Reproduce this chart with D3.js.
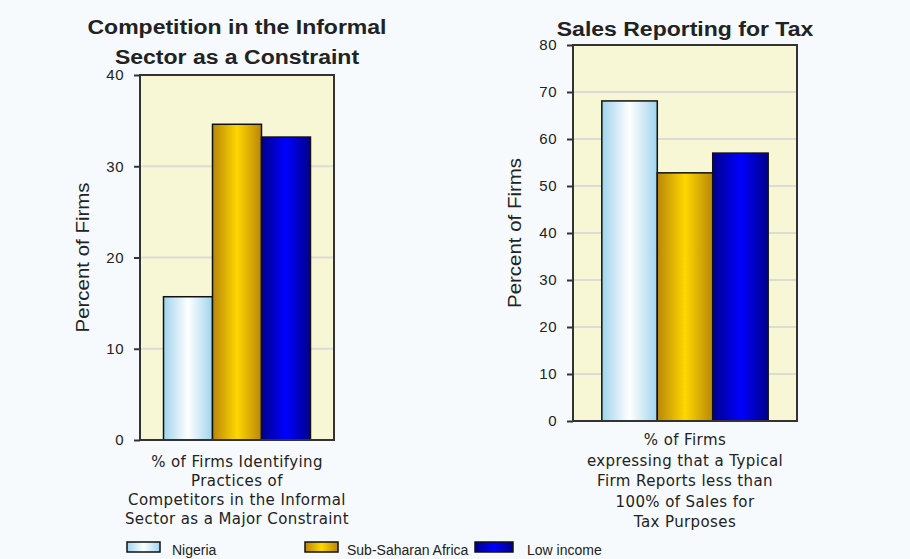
<!DOCTYPE html>
<html>
<head>
<meta charset="utf-8">
<script src="https://cdn.jsdelivr.net/npm/d3@7"></script>
<style>
  body { margin: 0; background: #f7fafd; }
  svg { display: block; }
</style>
</head>
<body>
<div id="chart"></div>
<script>
var WIDTH = 910;
var HEIGHT = 559;

// data
var series = ["Nigeria", "Sub-Saharan Africa", "Low income"];
var compValues = [15.7, 34.6, 33.2];
var taxValues = [68.1, 52.8, 57.0];
var compTicks = [0, 10, 20, 30, 40];
var taxTicks = [0, 10, 20, 30, 40, 50, 60, 70, 80];
var compTitle = ["Competition in the Informal", "Sector as a Constraint"];
var taxTitle = ["Sales Reporting for Tax"];
var compCategory = ["% of Firms Identifying", "Practices of", "Competitors in the Informal", "Sector as a Major Constraint"];
var taxCategory = ["% of Firms", "expressing that a Typical", "Firm Reports less than", "100% of Sales for", "Tax Purposes"];

var svg = d3.select("#chart").append("svg")
    .attr("width", WIDTH)
    .attr("height", HEIGHT);

var defs = svg.append("defs");

// bar gradients: dark edges, light centre
var gradStops = [
    ["#9fd4ec", "#ffffff", "#9fd4ec"],
    ["#b8860b", "#ffd700", "#b8860b"],
    ["#00008b", "#0000ff", "#00008b"]
];
gradStops.forEach(function(c, i) {
    var g = defs.append("linearGradient")
        .attr("id", "grad" + i)
        .attr("x1", "0%").attr("x2", "100%")
        .attr("y1", "0%").attr("y2", "0%");
    g.append("stop").attr("offset", "0%").attr("stop-color", c[0]);
    g.append("stop").attr("offset", "50%").attr("stop-color", c[1]);
    g.append("stop").attr("offset", "100%").attr("stop-color", c[2]);
});

var SANS = "'Liberation Sans', Arial, sans-serif";

function drawChart(opt) {
    var g = svg.append("g");
    var x = d3.scaleBand().domain(series).range([opt.left, opt.right]).paddingOuter(opt.outer);
    var y = d3.scaleLinear().domain([0, opt.max]).range([opt.bottom, opt.top]);

    // plot background
    g.append("rect")
        .attr("x", opt.left).attr("y", opt.top)
        .attr("width", opt.right - opt.left)
        .attr("height", opt.bottom - opt.top)
        .attr("fill", "#f7f7d5");

    // gridlines
    g.selectAll(".grid")
        .data(opt.ticks.filter(function(t) { return t > 0 && t < opt.max; }))
        .enter().append("line")
        .attr("x1", opt.left).attr("x2", opt.right)
        .attr("y1", function(d) { return y(d); })
        .attr("y2", function(d) { return y(d); })
        .attr("stroke", "#dcdcd4")
        .attr("stroke-width", 2);

    // bars
    g.selectAll(".bar")
        .data(opt.values)
        .enter().append("rect")
        .attr("x", function(d, i) { return x(series[i]); })
        .attr("y", function(d) { return y(d); })
        .attr("width", x.bandwidth())
        .attr("height", function(d) { return opt.bottom - y(d); })
        .attr("fill", function(d, i) { return "url(#grad" + i + ")"; })
        .attr("stroke", "#111")
        .attr("stroke-width", 1.5);

    // frame
    g.append("rect")
        .attr("x", opt.left).attr("y", opt.top)
        .attr("width", opt.right - opt.left)
        .attr("height", opt.bottom - opt.top)
        .attr("fill", "none")
        .attr("stroke", "#333")
        .attr("stroke-width", 2);

    // y axis
    var axis = g.append("g")
        .attr("transform", "translate(" + opt.left + ",0)")
        .call(d3.axisLeft(y).tickValues(opt.ticks).tickSize(6).tickPadding(10).tickFormat(d3.format("d")));
    axis.select(".domain").remove();
    axis.selectAll(".tick line").attr("stroke", "#333").attr("stroke-width", 2);
    axis.selectAll(".tick text")
        .attr("fill", "#222")
        .style("font-family", SANS)
        .style("font-size", "15px")
        .style("letter-spacing", "0.5px");

    // y label
    var cx = (opt.left + opt.right) / 2;
    g.append("text")
        .attr("transform", "translate(" + opt.labelX + "," + ((opt.top + opt.bottom) / 2) + ") rotate(-90)")
        .attr("text-anchor", "middle")
        .attr("dy", "0.35em")
        .attr("textLength", 150)
        .attr("lengthAdjust", "spacingAndGlyphs")
        .style("font-family", SANS)
        .style("font-size", "18px")
        .attr("fill", "#222")
        .text("Percent of Firms");

    // title, stretched a little to the reference's wide bold face
    g.selectAll(".title")
        .data(opt.title)
        .enter().append("text")
        .attr("x", cx)
        .attr("y", function(d, i) { return opt.titleY + i * 30; })
        .attr("text-anchor", "middle")
        .style("font-family", SANS)
        .style("font-size", "20px")
        .style("font-weight", "bold")
        .attr("fill", "#222")
        .text(function(d) { return d; })
        .each(function() {
            var len = this.getComputedTextLength();
            d3.select(this).attr("textLength", len * 1.15).attr("lengthAdjust", "spacingAndGlyphs");
        });

    // category label
    g.selectAll(".cat")
        .data(opt.category)
        .enter().append("text")
        .attr("x", cx)
        .attr("y", function(d, i) { return opt.catY + i * opt.catStep; })
        .attr("text-anchor", "middle")
        .style("font-family", "'DejaVu Sans', sans-serif")
        .style("font-size", "15px")
        .style("letter-spacing", "0.4px")
        .attr("fill", "#222")
        .text(function(d) { return d; });
}

drawChart({
    left: 140, right: 334, top: 75, bottom: 440, max: 40, outer: 0.48,
    values: compValues, ticks: compTicks, title: compTitle, titleY: 34,
    category: compCategory, catY: 467, catStep: 19, labelX: 83
});

drawChart({
    left: 573, right: 797, top: 45, bottom: 421, max: 80, outer: 0.52,
    values: taxValues, ticks: taxTicks, title: taxTitle, titleY: 36,
    category: taxCategory, catY: 445, catStep: 20.5, labelX: 515
});

// legend
var legendX = [127, 305, 475];
var legendW = [33, 33, 38];
var legendTextX = [172, 347, 527];
var legend = svg.selectAll(".legend")
    .data(series)
    .enter().append("g");

legend.append("rect")
    .attr("x", function(d, i) { return legendX[i]; })
    .attr("y", 542)
    .attr("width", function(d, i) { return legendW[i]; })
    .attr("height", 10)
    .attr("fill", function(d, i) { return "url(#grad" + i + ")"; })
    .attr("stroke", "#111")
    .attr("stroke-width", 1.5);

legend.append("text")
    .attr("x", function(d, i) { return legendTextX[i]; })
    .attr("y", 555)
    .style("font-family", SANS)
    .style("font-size", "14px")
    .attr("fill", "#222")
    .text(function(d) { return d; });
</script>
</body>
</html>
